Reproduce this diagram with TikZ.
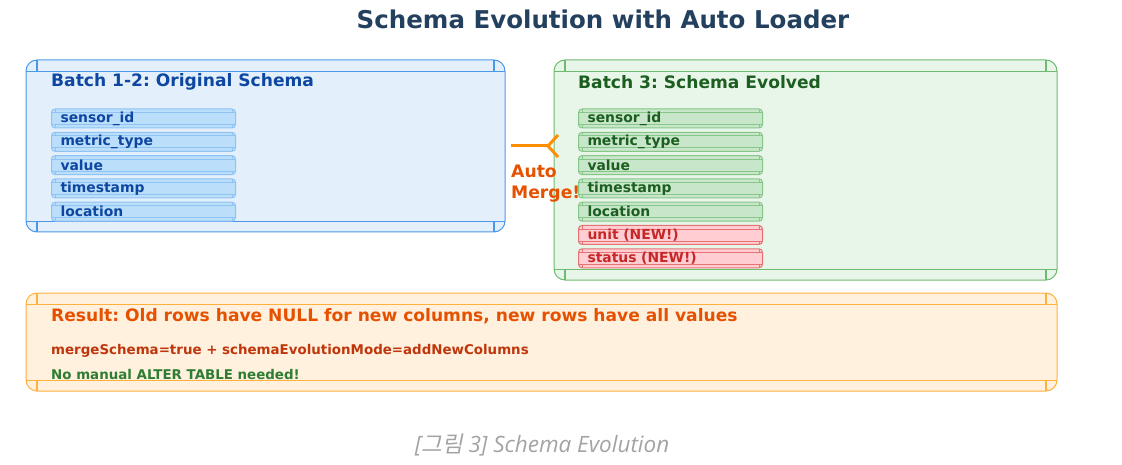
\documentclass[tikz,border=0pt]{standalone}
\usepackage{fontspec}
\setmainfont{DejaVu Sans}
\newfontfamily\capfont{Open Sans}
\newfontfamily\kofont{Noto Sans CJK KR}[FakeSlant=0.2]
\usepackage{tikz}
\usetikzlibrary{arrows.meta,positioning}
\frenchspacing
\definecolor{TitleNavy}{HTML}{24405F}
\definecolor{BlueFill}{HTML}{E3F0FC}
\definecolor{BlueLine}{HTML}{4C97E8}
\definecolor{BlueText}{HTML}{0D47A1}
\definecolor{BluePill}{HTML}{BBDEFB}
\definecolor{BluePillLine}{HTML}{8EC3F3}
\definecolor{GreenFill}{HTML}{E8F5E9}
\definecolor{GreenLine}{HTML}{6DBA70}
\definecolor{GreenText}{HTML}{1B5E20}
\definecolor{GreenPill}{HTML}{C8E6C9}
\definecolor{GreenPillLine}{HTML}{86C689}
\definecolor{RedPill}{HTML}{FFCDD2}
\definecolor{RedPillLine}{HTML}{E57373}
\definecolor{RedText}{HTML}{C62828}
\definecolor{OrangeFill}{HTML}{FFF1DE}
\definecolor{OrangeLine}{HTML}{FFB13D}
\definecolor{OrangeText}{HTML}{E65100}
\definecolor{BrownText}{HTML}{BF360C}
\definecolor{OkGreen}{HTML}{2E7D32}
\definecolor{ArrowOrange}{HTML}{FF8F00}
\definecolor{CapGray}{HTML}{A3A3A3}
\newcommand{\fsz}[1]{\fontsize{#1}{#1}\selectfont}
\tikzset{
  fancy/.style n args={4}{draw=#1, fill=#2, rounded corners=#3, line width=1pt, inner sep=0pt,
    path picture={
      \draw[#1, line width=0.8pt]
        ([yshift=-#3]path picture bounding box.north west) -- ([yshift=-#3]path picture bounding box.north east)
        ([yshift=#3]path picture bounding box.south west) -- ([yshift=#3]path picture bounding box.south east);
      \draw[#1, line width=#4]
        ([xshift=#3]path picture bounding box.north west) -- ([xshift=#3,yshift=-#3]path picture bounding box.north west)
        ([xshift=-#3]path picture bounding box.north east) -- ([xshift=-#3,yshift=-#3]path picture bounding box.north east)
        ([xshift=#3]path picture bounding box.south west) -- ([xshift=#3,yshift=#3]path picture bounding box.south west)
        ([xshift=-#3]path picture bounding box.south east) -- ([xshift=-#3,yshift=#3]path picture bounding box.south east);
    }},
  panelbox/.style 2 args={fancy={#1}{#2}{11pt}{1.8pt}},
  colbox/.style n args={3}{fancy={#1}{#2}{3.5pt}{1pt}, text=#3, anchor=west,
    minimum height=19pt, text width=166pt, inner xsep=9pt, align=left,
    font=\bfseries\fsz{13.9}},
  heading/.style={anchor=west, inner sep=0pt, font=\bfseries\fsz{17.1}},
  note/.style={anchor=west, inner sep=0pt, font=\bfseries\fsz{13.4}},
  mergearr/.style={ArrowOrange, line width=3pt, -{Straight Barb[reversed,length=10pt,width=22pt,line width=3pt]}}
}

\begin{document}
\begin{tikzpicture}[x=1pt,y=-1pt]
  \useasboundingbox (0,0) rectangle (1122,465);
  \node[font=\bfseries\fsz{24.5}, text=TitleNavy] (title) at (603,19) {Schema Evolution with Auto Loader};

  % batch panels
  \node[panelbox={BlueLine}{BlueFill}, minimum width=479pt, minimum height=172pt] (batchA) at (265.5,146) {};
  \node[panelbox={GreenLine}{GreenFill}, minimum width=503pt, minimum height=220pt] (batchB) at (805.5,170) {};
  \node[heading, text=BlueText] (headA) at (51,82) {Batch 1-2: Original Schema};
  \node[heading, text=GreenText] (headB) at (578,82) {Batch 3: Schema Evolved};

  \foreach \col [count=\i from 0] in {sensor\_id, metric\_type, value, timestamp, location} {
    \node[colbox={BluePillLine}{BluePill}{BlueText}] (old\i) at (51,118.5+23.3*\i) {\col};
    \node[colbox={GreenPillLine}{GreenPill}{GreenText}] (new\i) at (578,118.5+23.3*\i) {\col};
  }
  \node[colbox={RedPillLine}{RedPill}{RedText}] (new5) at (578,118.5+23.3*5) {unit (NEW!)};
  \node[colbox={RedPillLine}{RedPill}{RedText}] (new6) at (578,118.5+23.3*6) {status (NEW!)};

  % merge arrow
  \draw[mergearr] ([xshift=5pt]batchA.east) -- ([xshift=6pt]batchB.west |- batchA.east);
  \node[anchor=north west, inner sep=0pt, align=left, text=OrangeText,
        font=\bfseries\fontsize{17.2}{21}\selectfont] (merge) at (511,165) {Auto\\Merge!};

  % result
  \node[panelbox={OrangeLine}{OrangeFill}, minimum width=1031pt, minimum height=98pt] (result) at (541.5,342) {};
  \node[heading, text=OrangeText] (resTitle) at (51,316) {Result: Old rows have NULL for new columns, new rows have all values};
  \node[note, text=BrownText] (resOpt) at (51,351) {mergeSchema=true + schemaEvolutionMode=addNewColumns};
  \node[note, text=OkGreen] (resNote) at (51,375) {No manual ALTER TABLE needed!};

  \node[text=CapGray, font=\capfont\itshape\fsz{22.5}] (caption) at (542,445) {[{\kofont 그림} 3] Schema Evolution};
\end{tikzpicture}
\end{document}
